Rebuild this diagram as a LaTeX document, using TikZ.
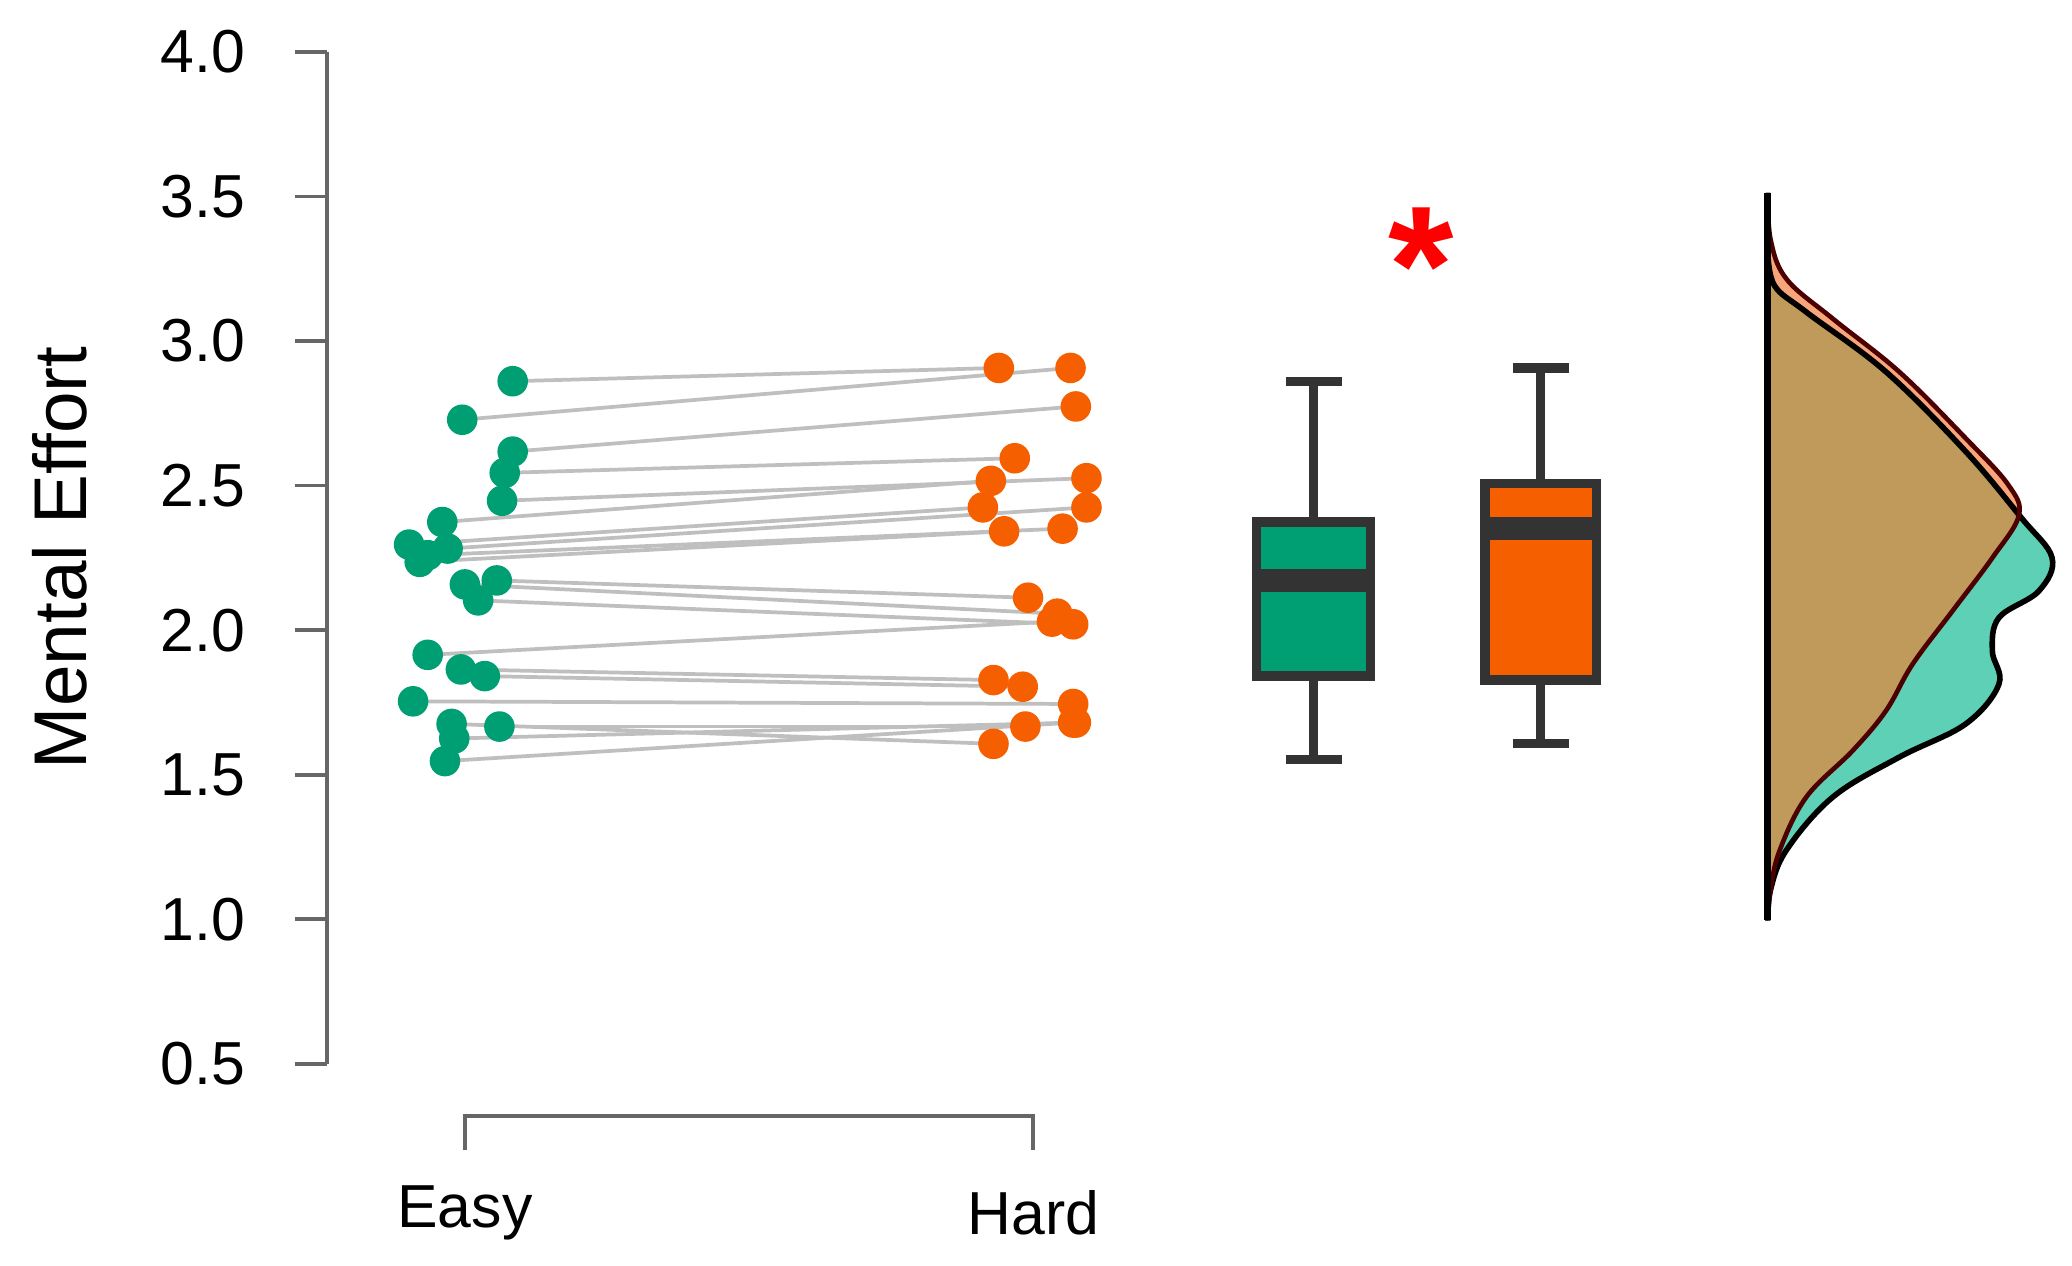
\documentclass[tikz,border=0pt]{standalone}
\usepackage{fontspec}
\setmainfont{Liberation Sans}
\begin{document}
\begin{tikzpicture}[x=0.01cm,y=-0.01cm,
  axis/.style={draw=black!60,line width=0.8pt},
  ytl/.style={anchor=east,font=\fontsize{13}{15}\selectfont},
  pe/.style={circle,fill=ecol,inner sep=0pt,minimum size=0.23cm},
  ph/.style={circle,fill=hcol,inner sep=0pt,minimum size=0.23cm},
  pair/.style={draw=black!25,line width=0.8pt},
  bx/.style={draw=black!80,line width=2pt}]
\definecolor{ecol}{HTML}{009E73}
\definecolor{hcol}{HTML}{F55F00}
\definecolor{tealL}{HTML}{5ED0B6}
\definecolor{orL}{HTML}{F9A57A}
\definecolor{brn}{HTML}{C09A5A}
\useasboundingbox (0,0) rectangle (1560,953);
% y axis
\draw[axis] (246,39) -- (246,801);
\foreach \v/\l in {0/4.0,1/3.5,2/3.0,3/2.5,4/2.0,5/1.5,6/1.0,7/0.5}{
  \draw[axis] (222,39+\v*108.86) -- (246,39+\v*108.86);
  \node[ytl] (t\v) at (197,39+\v*108.86) {\l};}
\node[rotate=90,font=\fontsize{16}{18}\selectfont] (yl) at (45,420) {Mental Effort};
% x axis
\draw[axis] (350,866) -- (350,840) -- (778,840) -- (778,866);
\node[font=\fontsize{13}{15}\selectfont] (xe) at (350,913) {Easy};
\node[font=\fontsize{13}{15}\selectfont] (xh) at (778,913) {Hard};
% points
\foreach \i/\ex/\ey/\hx/\hy in {
 1/386/287/752/277, 2/348/316/806/277, 3/386/340/810/306, 4/380/356/764/345,
 5/378/377/818/360, 6/333/393/746/362, 7/308/410/740/382, 8/337/413/818/382,
 9/316/423/756/400, 10/322/418/800/398, 11/350/440/796/462, 12/374/437/774/450,
 13/360/452/808/470, 14/322/493/792/468, 15/347/504/748/512, 16/365/509/770/517,
 17/311/528/808/530, 18/340/545/748/560, 19/376/547/772/547, 20/342/556/810/544,
 21/335/573/808/544}{
 \coordinate (e\i) at (\ex,\ey); \coordinate (h\i) at (\hx,\hy);
 \draw[pair] (e\i) -- (h\i);}
\foreach \i in {1,...,21}{\node[pe] (pe\i) at (e\i) {}; \node[ph] (ph\i) at (h\i) {};}
% boxplots
\draw[bx] (989,287) -- (989,393) (989,509) -- (989,572) (968,287) -- (1010,287) (968,572) -- (1010,572);
\draw[bx,fill=ecol] (946,393) rectangle (1032,509);
\draw[black!80,line width=5pt] (946,437) -- (1032,437);
\draw[bx] (1160,277) -- (1160,364) (1160,512) -- (1160,560) (1139,277) -- (1181,277) (1139,560) -- (1181,560);
\draw[bx,fill=hcol] (1118,364) rectangle (1202,512);
\draw[black!80,line width=5pt] (1118,398) -- (1202,398);
\node[text=red,font=\bfseries\fontsize{36}{36}\selectfont] (star) at (1070,200) {*};
% densities
\def\orp{plot[smooth,tension=0.6] coordinates {(1331,145)(1333,180)(1345,210)(1380,240)(1430,280)(1480,330)(1512,365)(1520,388)(1500,420)(1470,460)(1440,500)(1420,535)(1395,565)(1360,600)(1340,640)(1333,670)(1331,693)} -- cycle}
\def\tlp{plot[smooth,tension=0.6] coordinates {(1331,190)(1336,215)(1360,235)(1420,280)(1480,340)(1522,390)(1545,420)(1535,445)(1505,465)(1500,490)(1505,515)(1480,545)(1430,570)(1380,600)(1345,640)(1333,670)(1331,693)} -- cycle}
\fill[tealL] \tlp;
\fill[orL] \orp;
\begin{scope}\clip \tlp; \fill[brn] \orp; \end{scope}
\draw[black,line width=1.2pt] \tlp;
\draw[black!70!red,line width=1pt] \orp;
\draw[black,line width=1.5pt] (1331,145) -- (1331,693);
\end{tikzpicture}
\end{document}
